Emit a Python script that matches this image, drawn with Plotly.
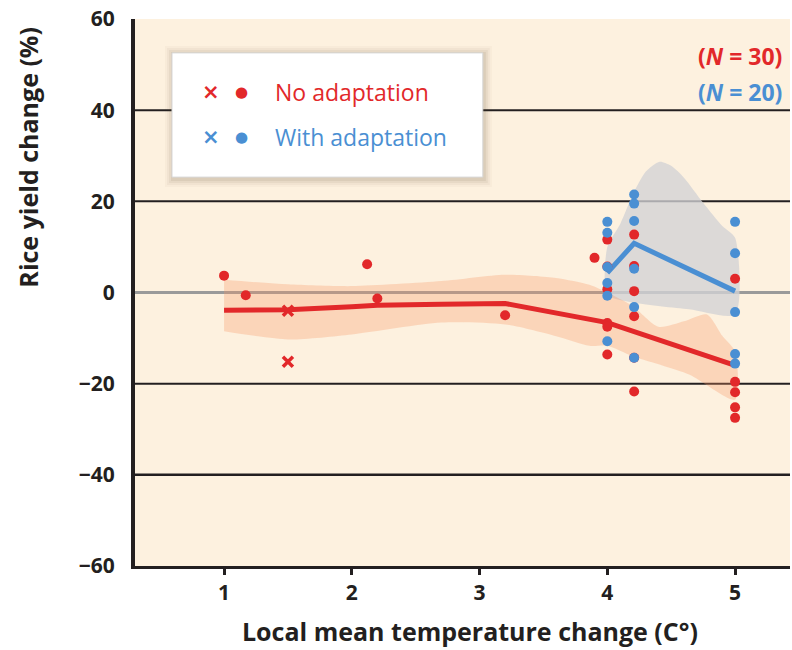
import plotly.graph_objects as go

# ---------------- data ----------------
red_circ_x = [1.0, 1.17, 2.12, 2.2, 3.2, 3.9,
              4.0, 4.0, 4.0, 4.0, 4.0, 4.0,
              4.21, 4.21, 4.21, 4.21, 4.21, 4.21,
              5.0, 5.0, 5.0, 5.0, 5.0]
red_circ_y = [3.7, -0.6, 6.2, -1.3, -5.0, 7.6,
              11.6, 5.7, 0.7, -6.7, -7.5, -13.6,
              12.7, 5.8, 0.3, -5.2, -14.3, -21.7,
              3.0, -19.6, -21.9, -25.2, -27.5]
red_x_x = [1.5, 1.5]
red_x_y = [-4.0, -15.2]

blue_circ_x = [4.0, 4.0, 4.0, 4.0, 4.0, 4.0,
               4.21, 4.21, 4.21, 4.21, 4.21, 4.21,
               5.0, 5.0, 5.0, 5.0, 5.0]
blue_circ_y = [15.5, 13.1, 5.6, 2.1, -0.7, -10.7,
               21.5, 19.5, 15.7, 5.2, -3.2, -14.3,
               15.5, 8.6, -4.3, -13.5, -15.6]

red_fit_x = [1.0, 1.5, 2.0, 2.2, 2.7, 3.2, 4.0, 4.2, 5.0]
red_fit_y = [-3.9, -3.8, -3.1, -2.8, -2.6, -2.4, -6.6, -8.5, -16.0]

blue_fit_x = [4.0, 4.21, 5.0]
blue_fit_y = [4.3, 10.8, 0.3]

red_band_x = [1.0, 1.5, 2.0, 2.7, 3.2, 3.6, 3.86, 4.0, 4.2, 4.4, 4.6, 4.78, 4.9, 5.0]
red_band_hi = [2.8, 1.8, 1.4, 2.5, 3.9, 3.2, 1.7, 0.0, -3.0, -7.5, -6.3, -4.8, -9.5, -13.0]
red_band_lo_x = [1.0, 1.5, 2.0, 2.7, 3.2, 3.6, 3.86, 4.0, 4.2, 4.64, 5.0]
red_band_lo = [-8.5, -10.3, -9.2, -6.6, -7.0, -9.6, -11.7, -11.7, -14.0, -18.0, -23.5]

blue_band_x = [4.0, 4.0, 4.1, 4.2, 4.3, 4.41, 4.5, 4.6, 4.75, 4.9, 5.0]
blue_band_hi = [-0.5, 10.0, 15.0, 21.5, 26.5, 28.7, 27.8, 25.2, 19.7, 14.6, 12.0]
blue_band_lo_x = [4.0, 4.2, 4.64, 5.0]
blue_band_lo = [-0.5, -2.2, -3.7, -4.8]

y_ticks = [60, 40, 20, 0, -20, -40, -60]
x_ticks = [1, 2, 3, 4, 5]
grid_levels = [40, 20, -20, -40]

legend_labels = ["No adaptation", "With adaptation"]
n_labels = ["(<i>N</i> = 30)", "(<i>N</i> = 20)"]

# ---------------- style ----------------
RED = "#e2282a"
BLUE = "#4a8fd3"
DARK = "#231f20"
BG = "#fdf1df"
FONT = "Open Sans"

fig = go.Figure()

# gray band (with adaptation)
fig.add_trace(go.Scatter(
    x=blue_band_x + blue_band_lo_x[::-1],
    y=blue_band_hi + blue_band_lo[::-1],
    fill="toself", fillcolor="rgba(210,210,213,0.78)",
    line=dict(width=0, shape="spline", smoothing=0.7),
    mode="lines", hoverinfo="skip", showlegend=False))

# salmon band (no adaptation)
fig.add_trace(go.Scatter(
    x=red_band_x + red_band_lo_x[::-1],
    y=red_band_hi + red_band_lo[::-1],
    fill="toself", fillcolor="rgba(250,150,100,0.30)",
    line=dict(width=0, shape="spline", smoothing=0.7),
    mode="lines", hoverinfo="skip", showlegend=False))

# fit lines
fig.add_trace(go.Scatter(x=red_fit_x, y=red_fit_y, mode="lines",
                         line=dict(color=RED, width=5), showlegend=False))
fig.add_trace(go.Scatter(x=blue_fit_x, y=blue_fit_y, mode="lines",
                         line=dict(color=BLUE, width=5), showlegend=False))

# points
fig.add_trace(go.Scatter(x=red_circ_x, y=red_circ_y, mode="markers",
                         marker=dict(color=RED, size=10, symbol="circle"),
                         showlegend=False))
fig.add_trace(go.Scatter(x=red_x_x, y=red_x_y, mode="markers",
                         marker=dict(color=RED, size=10, symbol="x-thin",
                                     line=dict(color=RED, width=3.5)),
                         showlegend=False))
fig.add_trace(go.Scatter(x=blue_circ_x, y=blue_circ_y, mode="markers",
                         marker=dict(color=BLUE, size=10, symbol="circle"),
                         showlegend=False))

shapes = []
# horizontal reference lines
for g in grid_levels:
    shapes.append(dict(type="line", xref="paper", x0=0, x1=1, yref="y", y0=g, y1=g,
                       line=dict(color=DARK, width=2 if g != -40 else 2.5), layer="below"))
shapes.append(dict(type="line", xref="paper", x0=0, x1=1, yref="y", y0=0, y1=0,
                   line=dict(color="#9a9a9a", width=3), layer="below"))

# legend box with soft shadow
PW, PH = 655.0, 547.0
lx0, lx1, ly0, ly1 = 0.0565, 0.531, 0.711, 0.938
for i, a in zip([8, 6, 4, 2], [0.03, 0.045, 0.06, 0.08]):
    shapes.append(dict(type="rect", xref="paper", yref="paper",
                       x0=lx0 - (i - 1) / PW, x1=lx1 + (i + 1) / PW,
                       y0=ly0 - (i + 2) / PH, y1=ly1 + (i - 1) / PH,
                       fillcolor=f"rgba(90,70,40,{a})", line=dict(width=0), layer="above"))
shapes.append(dict(type="rect", xref="paper", yref="paper", x0=lx0, x1=lx1, y0=ly0, y1=ly1,
                   fillcolor="white", line=dict(color="#d8d8d8", width=1), layer="above"))

annotations = []
row_y = [0.8665, 0.784]
for lab, col, yy in zip(legend_labels, [RED, BLUE], row_y):
    annotations.append(dict(xref="paper", yref="paper", x=0.116, y=yy, text="<b>×</b>",
                            showarrow=False, font=dict(family="DejaVu Sans", size=21, color=col),
                            xanchor="center", yanchor="middle"))
    annotations.append(dict(xref="paper", yref="paper", x=0.163, y=yy, text="●",
                            showarrow=False, font=dict(family="DejaVu Sans", size=15, color=col),
                            xanchor="center", yanchor="middle"))
    annotations.append(dict(xref="paper", yref="paper", x=0.211, y=yy, text=lab,
                            showarrow=False, font=dict(family=FONT, size=23, color=col),
                            xanchor="left", yanchor="middle"))

for lab, col, yy in zip(n_labels, [RED, BLUE], [0.932, 0.8665]):
    annotations.append(dict(xref="paper", yref="paper", x=0.991, y=yy, text=f"<b>{lab}</b>",
                            showarrow=False, font=dict(family=FONT, size=23, color=col),
                            xanchor="right", yanchor="middle"))

annotations.append(dict(xref="paper", yref="paper", x=0.511, y=-0.119,
                        text="<b>Local mean temperature change (C°)</b>", showarrow=False,
                        font=dict(family=FONT, size=25, color=DARK),
                        xanchor="center", yanchor="middle", borderpad=0))
annotations.append(dict(xref="paper", yref="paper", x=-0.163, y=0.747,
                        text="<b>Rice yield change (%)</b>", showarrow=False, textangle=-90,
                        font=dict(family=FONT, size=25, color=DARK),
                        xanchor="center", yanchor="middle"))

fig.update_layout(
    width=792, height=650,
    margin=dict(l=135, r=2, t=19, b=84),
    paper_bgcolor="white", plot_bgcolor=BG,
    shapes=shapes, annotations=annotations,
    showlegend=False,
    xaxis=dict(range=[0.303, 5.43], tickvals=x_ticks, ticktext=[str(v) for v in x_ticks],
               showgrid=False, zeroline=False, showline=True, linecolor=DARK, linewidth=3,
               ticks="outside", ticklen=6, tickwidth=3, tickcolor=DARK,
               tickfont=dict(family=FONT, size=21, color=DARK, weight="bold")),
    yaxis=dict(range=[-60, 60], tickvals=y_ticks,
               showgrid=False, zeroline=False, showline=True, linecolor=DARK, linewidth=4,
               ticks="outside", ticklen=12, tickcolor="rgba(0,0,0,0)",
               tickfont=dict(family=FONT, size=21, color=DARK, weight="bold")),
)

fig.write_html("out.html")
